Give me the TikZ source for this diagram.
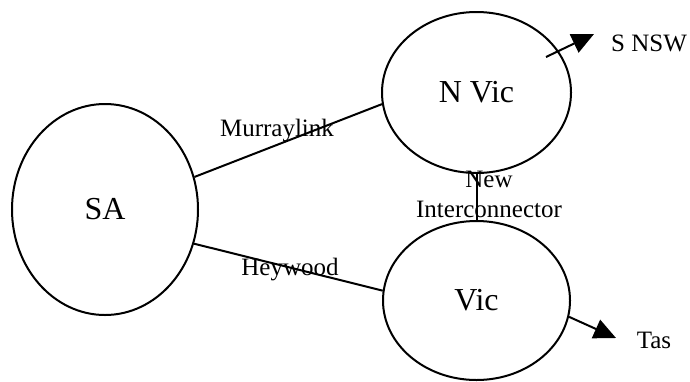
\documentclass[tikz,border=0pt]{standalone}
\usepackage{fontspec}
\setmainfont{Liberation Serif}
\usepackage{tikz}
\usetikzlibrary{shapes.geometric, arrows.meta, positioning, calc}

\begin{document}
\begin{tikzpicture}[
        x=0.5pt, y=-0.5pt,
        >={Triangle[length=11pt, width=10pt]},
        regionNode/.style={
            draw,
            ellipse,
            line width=1pt,
            inner sep=0pt,
            font=\fontsize{16}{19}\selectfont
        },
        linkLabel/.style={
            font=\fontsize{12.5}{15}\selectfont,
            align=center,
            inner sep=0pt
        },
        linkLine/.style={
            line width=1pt
        },
        flowArrow/.style={
            ->,
            line width=1pt
        }
    ]
    \useasboundingbox (0,0) rectangle (690,381);

    % Regions
    \node[regionNode, minimum width=93pt, minimum height=105.5pt] (sa) at (105,209.5) {SA};
    \node[regionNode, minimum width=94.5pt, minimum height=80.5pt] (nvic) at (476.5,92.5) {N Vic};
    \node[regionNode, minimum width=93.5pt, minimum height=79.5pt] (vic) at (476.5,300.5) {Vic};

    % Interconnectors
    \draw[linkLine] (sa.20) -- (nvic.187);
    \draw[linkLine] (sa.-21) -- (vic.174);
    \draw[linkLine] (nvic.south) -- (vic.north);

    \node[linkLabel] (murray) at (277,131) {Murraylink};
    \node[linkLabel] (heywood) at (290,270) {Heywood};
    \node[linkLabel] (newlink) at (489,194) {New\\Interconnector};

    % Flows out of the region
    \node[linkLabel] (snsw) at (649,43) {S NSW};
    \node[linkLabel] (tas) at (654,340) {Tas};
    \coordinate (nvicOut) at (546,57);
    \coordinate (snswTip) at (594,34);
    \coordinate (tasTip) at (616,338);

    \draw[flowArrow] (nvicOut) -- (snswTip);
    \draw[flowArrow] (vic.-10) -- (tasTip);

\end{tikzpicture}
\end{document}
